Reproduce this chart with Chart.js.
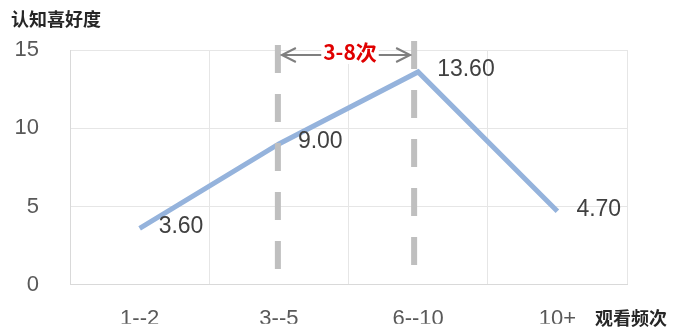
<!DOCTYPE html>
<html lang="zh">
<head>
<meta charset="UTF-8">
<title>认知喜好度</title>
<style>
    body { margin: 0; background: #fff; }
    .wrap { width: 673px; height: 329px; position: relative; }
</style>
<script src="https://cdn.jsdelivr.net/npm/chart.js"></script>
</head>
<body>
<div class="wrap"><canvas id="chart" width="673" height="329"></canvas></div>
<script>
    // data
    const categories = ['1--2', '3--5', '6--10', '10+'];
    const scores = [3.60, 9.00, 13.60, 4.70];
    const yTicks = [0, 5, 10, 15];
    const rangeFrom = 1;      // bracket starts at "3--5"
    const rangeTo = 2;        // and ends at "6--10"
    const rangeLabel = '3-8次';
    const yTitle = '认知喜好度';
    const xTitle = '观看频次';

    const numFont = '"Liberation Sans", Arial, sans-serif';
    const cjkFont = '"Noto Sans CJK SC", sans-serif';

    // value labels next to each point
    const valueLabels = {
        id: 'valueLabels',
        afterDatasetsDraw(chart) {
            const ctx = chart.ctx;
            const meta = chart.getDatasetMeta(0);
            ctx.save();
            ctx.font = '23px ' + numFont;
            ctx.fillStyle = '#404040';
            ctx.textAlign = 'left';
            ctx.textBaseline = 'middle';
            meta.data.forEach((pt, i) => {
                ctx.fillText(scores[i].toFixed(2), pt.x + 19, pt.y - 2);
            });
            ctx.restore();
        }
    };

    // dashed range markers, arrow and axis titles
    const decorations = {
        id: 'decorations',
        afterDraw(chart) {
            const ctx = chart.ctx;
            const x = chart.scales.x;
            const x1 = x.getPixelForValue(rangeFrom) - 1;
            const x2 = x.getPixelForValue(rangeTo) - 4;

            ctx.save();
            ctx.strokeStyle = '#bfbfbf';
            ctx.lineWidth = 6;
            ctx.setLineDash([28, 21]);
            ctx.beginPath();
            ctx.moveTo(x1, 45);
            ctx.lineTo(x1, 270);
            ctx.moveTo(x2, 41);
            ctx.lineTo(x2, 265);
            ctx.stroke();
            ctx.setLineDash([]);

            // double arrow
            const ay = 55;
            ctx.strokeStyle = '#7f7f7f';
            ctx.lineWidth = 2;
            ctx.beginPath();
            ctx.moveTo(x1 + 4, ay);
            ctx.lineTo(x2 - 4, ay);
            ctx.moveTo(x1 + 18, ay - 7);
            ctx.lineTo(x1 + 4, ay);
            ctx.lineTo(x1 + 18, ay + 7);
            ctx.moveTo(x2 - 18, ay - 7);
            ctx.lineTo(x2 - 4, ay);
            ctx.lineTo(x2 - 18, ay + 7);
            ctx.stroke();

            const cx = (x1 + x2) / 2 + 4;
            ctx.font = 'bold 21px ' + cjkFont;
            const w = ctx.measureText(rangeLabel).width;
            ctx.fillStyle = '#fff';
            ctx.fillRect(cx - w / 2 - 2, ay - 9, w + 4, 18);
            ctx.fillStyle = '#e00000';
            ctx.textAlign = 'center';
            ctx.textBaseline = 'middle';
            ctx.fillText(rangeLabel, cx, ay - 3);

            // axis titles
            ctx.font = 'bold 18px ' + cjkFont;
            ctx.fillStyle = '#262626';
            ctx.textAlign = 'left';
            ctx.fillText(yTitle, 11, 19);
            ctx.fillText(xTitle, 595, 318);
            ctx.restore();
        }
    };

    new Chart(document.getElementById('chart'), {
        type: 'line',
        data: {
            labels: categories,
            datasets: [{
                data: scores,
                borderColor: '#95b3dc',
                borderWidth: 5,
                tension: 0,
                pointRadius: 0,
                pointHoverRadius: 0
            }]
        },
        options: {
            responsive: false,
            animation: false,
            events: [],
            layout: { padding: { top: 50, right: 46, bottom: 0, left: 0 } },
            plugins: { legend: { display: false }, tooltip: { enabled: false } },
            scales: {
                x: {
                    offset: true,
                    grid: { offset: true, color: '#e6e6e6', drawTicks: false },
                    border: { color: '#d9d9d9' },
                    ticks: {
                        padding: 21,
                        color: '#595959',
                        font: { family: numFont, size: 22 },
                        maxRotation: 0
                    },
                    afterFit(s) { s.height = 39; }
                },
                y: {
                    min: 0,
                    max: 15,
                    afterBuildTicks(s) { s.ticks = yTicks.map(v => ({ value: v })); },
                    grid: { color: '#e6e6e6', drawTicks: false },
                    border: { color: '#d9d9d9' },
                    ticks: {
                        padding: 31,
                        color: '#595959',
                        font: { family: numFont, size: 22 }
                    },
                    afterFit(s) { s.width = 70; }
                }
            }
        },
        plugins: [valueLabels, decorations]
    });
</script>
</body>
</html>
